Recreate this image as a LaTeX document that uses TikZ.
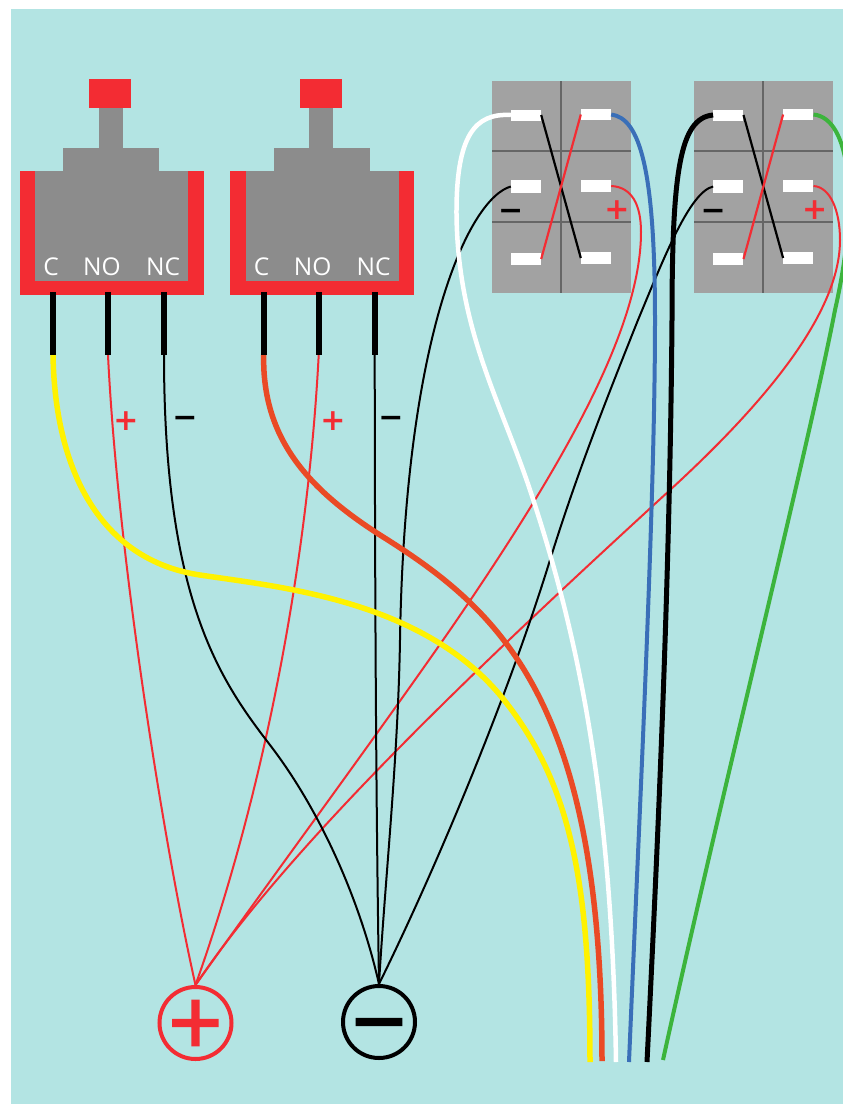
\documentclass[tikz,border=0pt]{standalone}
\usepackage{fontspec}
\newfontfamily\labelfont{Open Sans}
\newfontfamily\signfont[FakeBold=2]{Liberation Sans}
\newfontfamily\boldsignfont{DejaVu Sans Bold}

\definecolor{wall}{HTML}{B3E4E3}
\definecolor{switchred}{HTML}{F32C33}
\definecolor{switchgrey}{HTML}{8C8C8C}
\definecolor{batgrey}{HTML}{A2A2A2}
\definecolor{batline}{HTML}{666666}
\definecolor{wireyellow}{HTML}{FFF200}
\definecolor{wireorange}{HTML}{EA4A25}
\definecolor{wireblue}{HTML}{3A6FB8}
\definecolor{wiregreen}{HTML}{3CB43C}

\tikzset{
  pinlabel/.style={text=white,font=\labelfont\fontsize{24.5}{24.5}\selectfont,anchor=base,inner sep=0pt},
  terminal/.style={fill=white,minimum width=30pt,minimum height=12.5pt,inner sep=0pt},
  sign/.style={font=\boldsignfont\fontsize{30}{30}\selectfont,inner sep=0pt},
  bigsign/.style={font=\signfont\fontsize{92}{92}\selectfont,inner sep=0pt,yshift=-4pt},
  thinwire/.style={line width=2pt},
  thickwire/.style={line width=5.5pt},
  jumper/.style={line width=2.2pt},
  pinwire/.style={black,line width=6pt},
  rail/.style={circle,draw,line width=4pt,minimum size=72pt,inner sep=0pt}
}

\begin{document}
\begin{tikzpicture}[x=1pt,y=-1pt]

\def\bodywidth{184};
\def\wallright{843};
\def\wallbottom{1104};

\useasboundingbox (0,0) rectangle (\wallright,\wallbottom);
\fill[white] (0,0) rectangle (\wallright,\wallbottom);
\clip (0,0) rectangle (\wallright,\wallbottom);
\fill[wall] (11,9) rectangle (\wallright,\wallbottom);

% switches
\foreach \sw/\off in {A/0,B/210.7}{
  \begin{scope}[xshift=\off pt]
    \fill[switchred] (89,78.5) rectangle (131,108);
    \fill[switchgrey] (98.5,108) rectangle (122.5,148);
    \fill[switchgrey] (63,148) rectangle (159,171);
    \fill[switchred] (19.5,171) rectangle (19.5+\bodywidth,295);
    \fill[switchgrey] (35,171) rectangle (188,281);
    \node[pinlabel] at (51,275) {C};
    \node[pinlabel] at (102,275) {NO};
    \node[pinlabel] at (163,275) {NC};
    \coordinate (\sw-c) at (53,355);
    \coordinate (\sw-no) at (108,355);
    \coordinate (\sw-nc) at (164,355);
  \end{scope}
}

% batteries
\foreach \bat/\off/\plusx in {A/0/617,B/202.3/612.4}{
  \begin{scope}[xshift=\off pt]
    \fill[batgrey] (492,81) rectangle (631,293);
    \draw[batline,line width=2pt] (561,81) -- (561,293);
    \draw[batline,line width=2pt] (492,151) -- (631,151);
    \draw[batline,line width=2pt] (492,222) -- (631,222);
    \node[terminal,minimum height=11pt] (\bat-tl) at (526,115) {};
    \node[terminal,minimum height=11pt] (\bat-tr) at (596,114.5) {};
    \node[terminal] (\bat-ml) at (526,186.5) {};
    \node[terminal] (\bat-mr) at (596,186) {};
    \node[terminal] (\bat-bl) at (526,259) {};
    \node[terminal] (\bat-br) at (596,258) {};
    \draw[jumper,black] (\bat-tl.east) -- (\bat-br.west);
    \draw[jumper,switchred] (\bat-tr.west) -- (\bat-bl.east);
    \node[sign,text=black] (\bat-minus) at (510.8,211) {\vphantom{+}−};
    \node[sign,text=switchred] (\bat-plus) at (\plusx,210) {+};
  \end{scope}
}

% supply points
\node[rail,draw=switchred] (pos) at (195.5,1023) {};
\node[rail,draw=black] (neg) at (379,1022) {};
\node[bigsign,text=switchred] (possign) at (pos.center) {+};
\node[bigsign,text=black] (negsign) at (neg.center) {\vphantom{+}−};

\coordinate (endyellow) at (590,1062);
\coordinate (endorange) at (602,1061);
\coordinate (endwhite) at (616,1062);
\coordinate (endblue) at (629,1062);
\coordinate (endblack) at (647,1062);
\coordinate (endgreen) at (663,1060);

% thin supply wires
\draw[thinwire,switchred] (A-no) .. controls (118,560) and (165,850) .. (pos.north);
\draw[thinwire,switchred] (B-no) .. controls (308,560) and (265,790) .. (pos.north);
\draw[thinwire,switchred] (A-mr.east) .. controls (632,187) and (641,205) .. (641,232)
  .. controls (641,330) and (560,470) .. (450,630)
  .. controls (370,745) and (270,880) .. (pos.north);
\draw[thinwire,switchred] (B-mr.east) .. controls (830,187) and (840,210) .. (840,240)
  .. controls (840,300) and (790,380) .. (670,490)
  .. controls (520,628) and (300,830) .. (pos.north);
\draw[thinwire] (A-nc) .. controls (164,600) and (220,680) .. (270,745)
  .. controls (320,810) and (360,900) .. (neg.north);
\draw[thinwire] (B-nc) .. controls (375,600) and (376,800) .. (neg.north);
\draw[thinwire] (A-ml.west) .. controls (470,198) and (405,330) .. (400,640)
  .. controls (398,760) and (385,880) .. (neg.north);
\draw[thinwire] (B-ml.west) .. controls (690,192) and (665,255) .. (638,320)
  .. controls (600,415) and (575,480) .. (550,560)
  .. controls (510,690) and (440,860) .. (neg.north);

% thick wires to the loose ends
\draw[line width=4pt,wiregreen] (B-tr.east) .. controls (850,118) and (860,200) .. (835,310)
  .. controls (810,440) and (720,800) .. (endgreen);
\draw[line width=5pt] (B-tl.west) .. controls (680,118) and (672,170) .. (672,320)
  .. controls (670,560) and (660,800) .. (endblack);
\draw[line width=4pt,wireblue] (A-tr.east) .. controls (640,118) and (655,170) .. (655,320)
  .. controls (655,500) and (640,800) .. (endblue);
\draw[line width=4.5pt,white] (A-tl.west) .. controls (475,113) and (456,135) .. (456.5,215)
  .. controls (458,330) and (500,400) .. (530,490)
  .. controls (580,640) and (612,800) .. (endwhite);
\draw[thickwire,wireorange] (B-c) .. controls (262,440) and (310,490) .. (380,535)
  .. controls (500,610) and (602,700) .. (endorange);
\draw[thickwire,wireyellow] (A-c) .. controls (55,470) and (100,560) .. (200,575)
  .. controls (280,587) and (420,600) .. (500,695)
  .. controls (570,780) and (590,880) .. (endyellow);

% switch pins
\foreach \sw/\off in {A/0,B/210.7}{
  \begin{scope}[xshift=\off pt]
    \coordinate (\sw-ctop) at (53,292);
    \coordinate (\sw-notop) at (108,292);
    \coordinate (\sw-nctop) at (164,292);
  \end{scope}
  \draw[pinwire] (\sw-ctop) -- (\sw-c);
  \draw[pinwire] (\sw-notop) -- (\sw-no);
  \draw[pinwire] (\sw-nctop) -- (\sw-nc);
}

% wire signs
\node[sign,text=switchred] (Aplus) at (126,421) {+};
\node[sign,text=black] (Aminus) at (185,418) {\vphantom{+}−};
\node[sign,text=switchred] (Bplus) at (333,421) {+};
\node[sign,text=black] (Bminus) at (391,418) {\vphantom{+}−};
\end{tikzpicture}
\end{document}
